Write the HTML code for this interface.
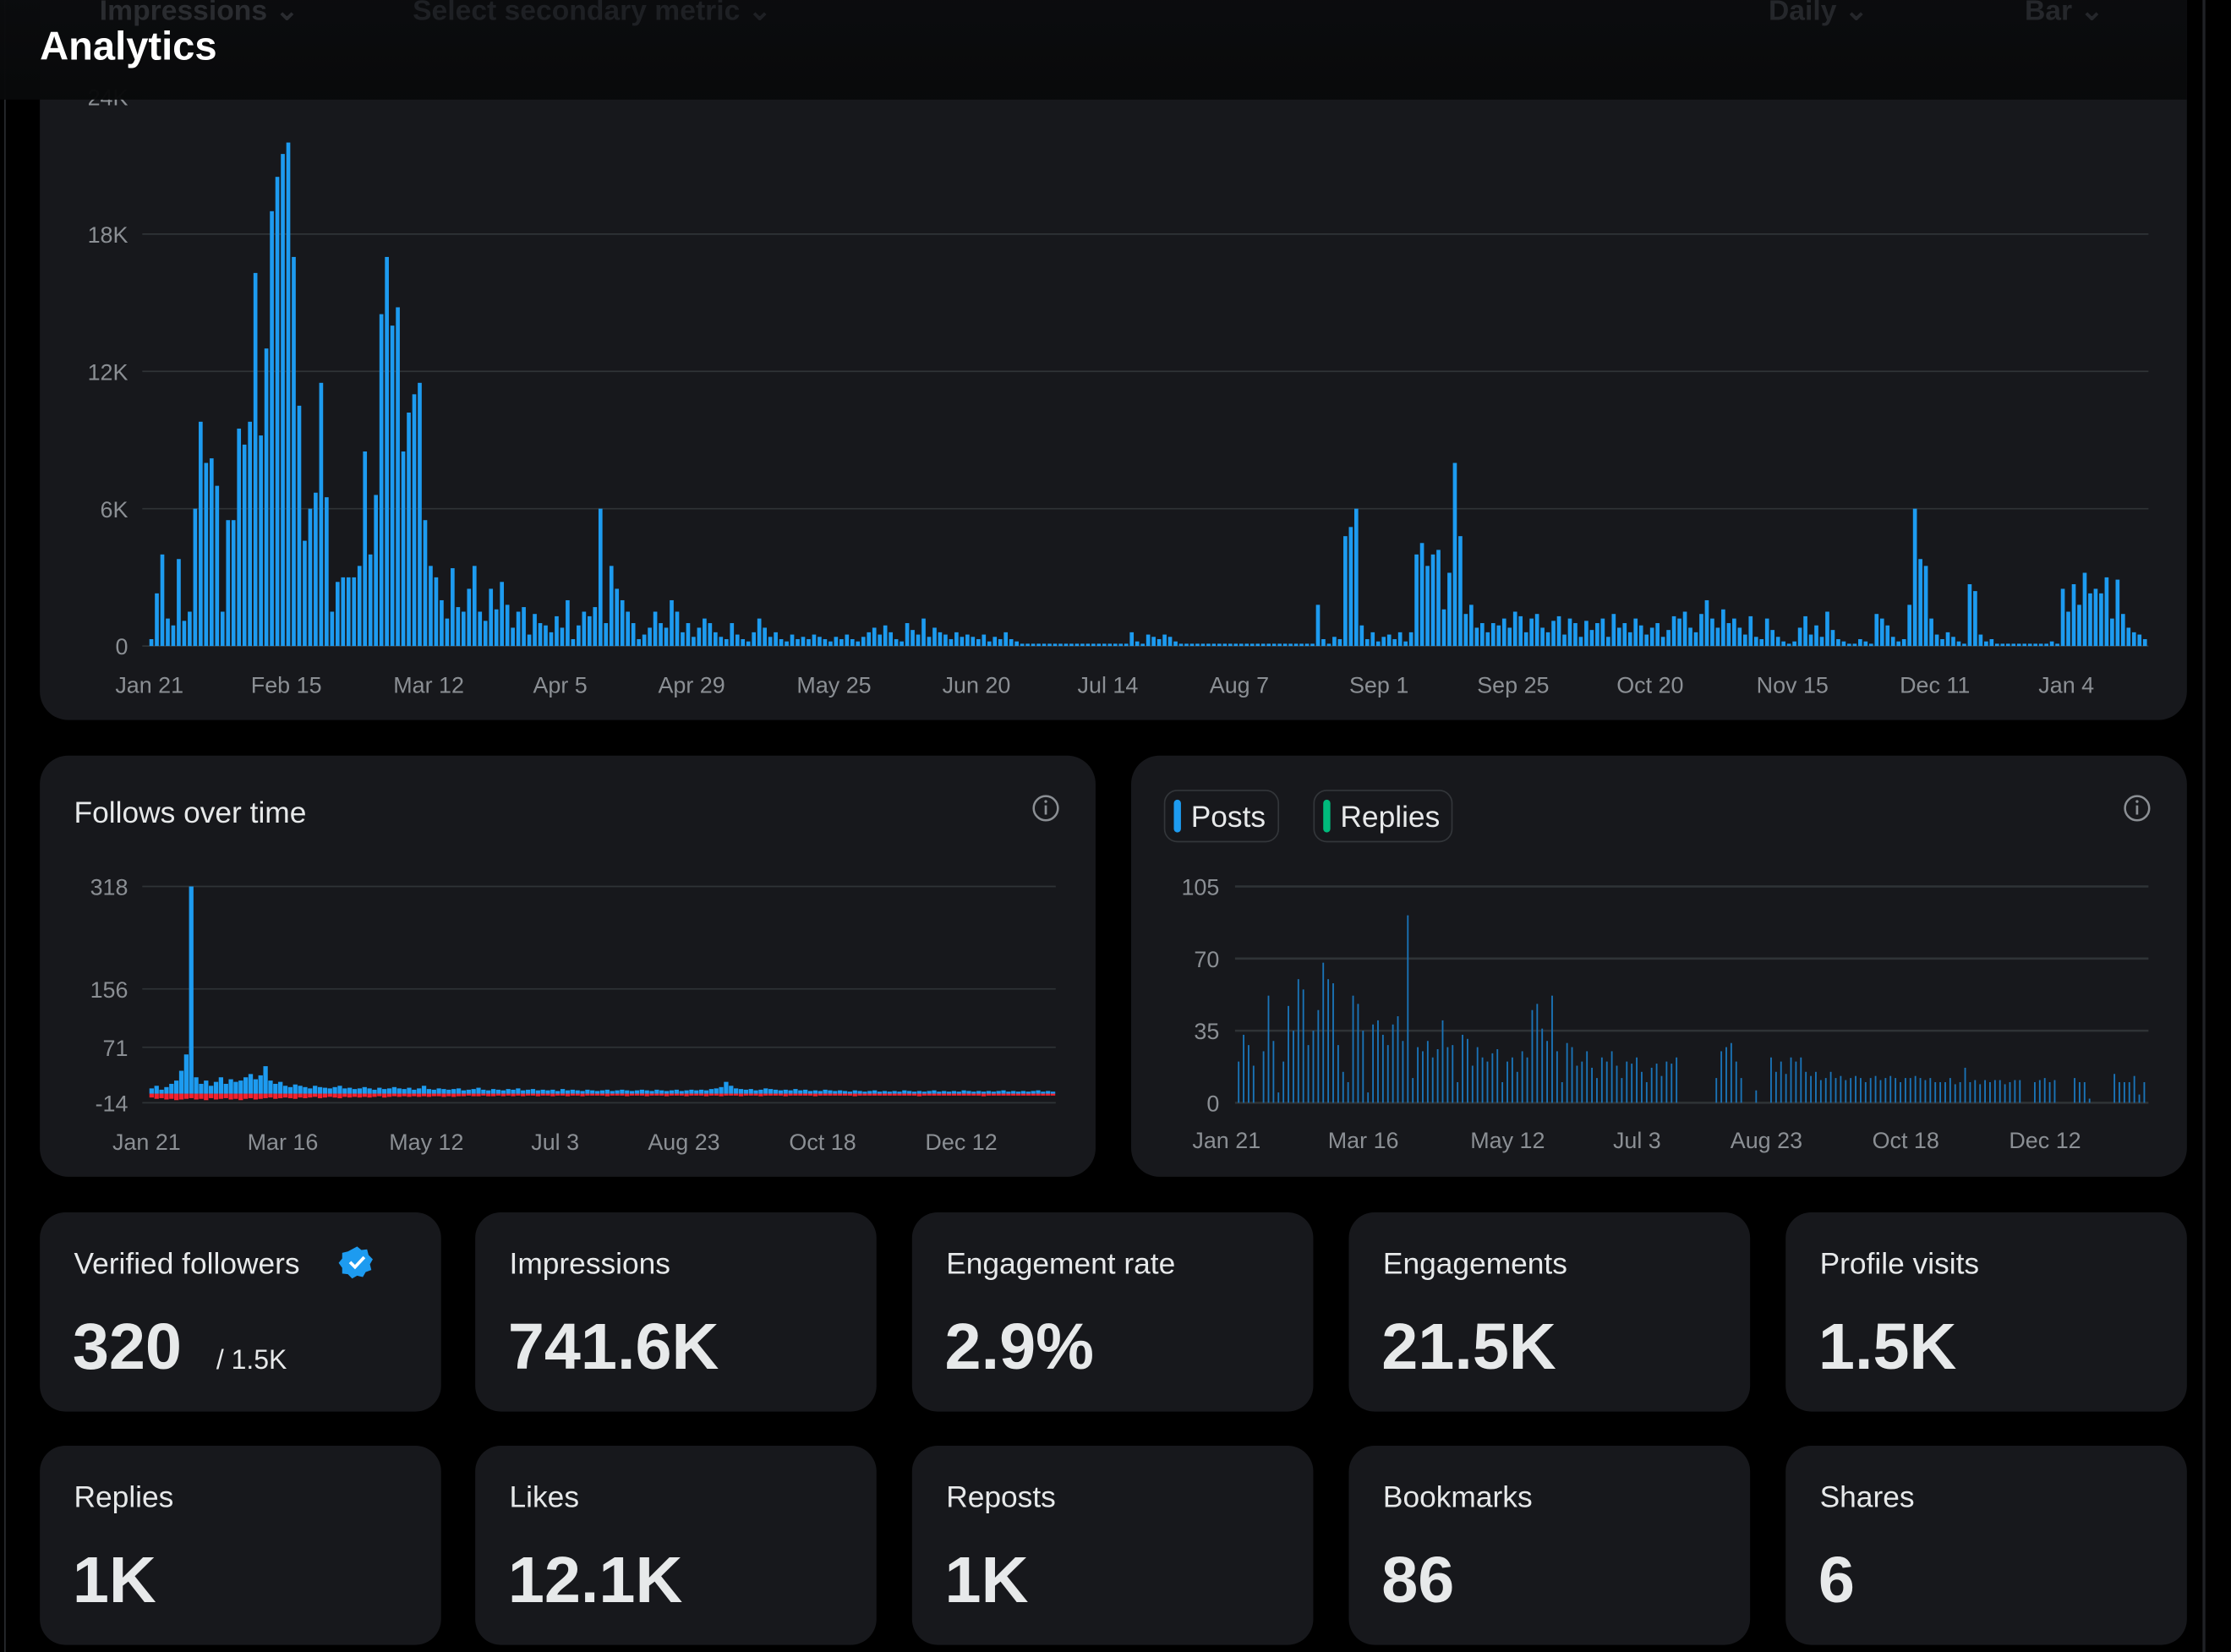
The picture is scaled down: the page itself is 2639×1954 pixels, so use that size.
<!DOCTYPE html>
<html><head><meta charset="utf-8"><style>
html,body{margin:0;padding:0;background:#000;width:2639px;height:1954px;overflow:hidden}
svg{display:block;font-family:"Liberation Sans",sans-serif}
</style></head><body>
<svg id="root" width="2639" height="1954" viewBox="0 0 1568 1161" xmlns="http://www.w3.org/2000/svg">
<defs>
<linearGradient id="hdr" x1="0" y1="0" x2="0" y2="1"><stop offset="0" stop-color="#0b0c0e"/><stop offset="1" stop-color="#08090a"/></linearGradient>
</defs>
<rect x="0" y="0" width="1568" height="1161" fill="#000"/>
<rect x="3" y="0" width="1" height="1161" fill="#2a2c30"/>
<rect x="1548" y="0" width="2" height="1161" fill="#202226"/>
<rect x="28" y="-30" width="1509" height="536" rx="20" fill="#17181c"/>
<g id="mainChart"></g>
<rect x="0" y="0" width="1537" height="70" fill="url(#hdr)" opacity="0.97"/>
<text x="70" y="14" fill="#2a2c30" font-size="20" font-weight="bold">Impressions ⌄</text>
<text x="290" y="14" fill="#1e2024" font-size="20" font-weight="bold">Select secondary metric ⌄</text>
<text x="1243" y="14" fill="#25272b" font-size="20" font-weight="bold">Daily ⌄</text>
<text x="1423" y="14" fill="#25272b" font-size="20" font-weight="bold">Bar ⌄</text>
<text x="28" y="42" fill="#ffffff" font-size="28" font-weight="bold">Analytics</text>

<rect x="28" y="531" width="742" height="296" rx="20" fill="#17181c"/>
<text x="52" y="578" fill="#e7e9ea" font-size="21">Follows over time</text>
<g><circle cx="735" cy="568" r="8.5" fill="none" stroke="#8b8f94" stroke-width="1.5"/><rect x="734.2" y="566" width="1.6" height="6.5" fill="#8b8f94"/><circle cx="735" cy="563.3" r="1" fill="#8b8f94"/></g>
<g id="followsChart"></g>

<rect x="795" y="531" width="742" height="296" rx="20" fill="#17181c"/>
<g><rect x="818.5" y="555.5" width="80" height="36" rx="9" fill="none" stroke="#33363a"/><rect x="825" y="562" width="5" height="23" rx="2.5" fill="#1d9bf0"/><text x="837" y="581" fill="#e7e9ea" font-size="21">Posts</text></g>
<g><rect x="923.5" y="555.5" width="97" height="36" rx="9" fill="none" stroke="#33363a"/><rect x="930" y="562" width="5" height="23" rx="2.5" fill="#00ba7c"/><text x="942" y="581" fill="#e7e9ea" font-size="21">Replies</text></g>
<g><circle cx="1502" cy="568" r="8.5" fill="none" stroke="#8b8f94" stroke-width="1.5"/><rect x="1501.2" y="566" width="1.6" height="6.5" fill="#8b8f94"/><circle cx="1502" cy="563.3" r="1" fill="#8b8f94"/></g>
<g id="postsChart"></g>

<g id="stats"></g>
</svg>
<script>
const NS="http://www.w3.org/2000/svg";
function mk(tag,attrs,parent){const e=document.createElementNS(NS,tag);for(const k in attrs)e.setAttribute(k,attrs[k]);parent.appendChild(e);return e;}

const impTicks=[0,6,12,18,24];
const impTickLabels=["0","6K","12K","18K","24K"];
const impDateLabels=["Jan 21","Feb 15","Mar 12","Apr 5","Apr 29","May 25","Jun 20","Jul 14","Aug 7","Sep 1","Sep 25","Oct 20","Nov 15","Dec 11","Jan 4"];
const impDateIdx=[0,25,51,75,99,125,151,175,199,224.5,249,274,300,326,350];
const impressions=[
0.3,2.3,4,1.2,0.9,3.8,1.1,1.5,6,9.8,
8,8.2,7,1.5,5.5,5.5,9.5,8.8,9.8,16.3,
9.2,13,19,20.5,21.5,22,17,10.5,4.6,6,
6.7,11.5,6.5,1.5,2.8,3,3,3,3.5,8.5,
4,6.6,14.5,17,14,14.8,8.5,10.2,11,11.5,
5.5,3.5,3,2,1.2,3.4,1.7,1.5,2.5,3.5,
1.5,1.1,2.5,1.6,2.8,1.8,0.8,1.5,1.7,0.5,
1.4,1,0.9,0.6,1.3,0.8,2,0.3,0.9,1.5,
1.3,1.7,6,1,3.5,2.5,2,1.5,1,0.3,
0.5,0.8,1.5,1,0.8,2,1.5,0.6,1,0.4,
0.8,1.2,1,0.6,0.4,0.3,1,0.5,0.3,0.2,
0.6,1.2,0.8,0.4,0.6,0.3,0.2,0.5,0.3,0.4,
0.3,0.5,0.4,0.3,0.2,0.4,0.3,0.5,0.3,0.2,
0.4,0.6,0.8,0.5,0.9,0.6,0.3,0.2,1,0.7,
0.5,1.2,0.4,0.8,0.6,0.5,0.3,0.6,0.4,0.5,
0.4,0.3,0.5,0.2,0.4,0.3,0.6,0.3,0.2,0.1,
0.1,0.1,0.1,0.1,0.1,0.1,0.1,0.1,0.1,0.1,
0.1,0.1,0.1,0.1,0.1,0.1,0.1,0.1,0.1,0.6,
0.2,0.1,0.5,0.4,0.3,0.5,0.4,0.2,0.1,0.1,
0.1,0.1,0.1,0.1,0.1,0.1,0.1,0.1,0.1,0.1,
0.1,0.1,0.1,0.1,0.1,0.1,0.1,0.1,0.1,0.1,
0.1,0.1,0.1,1.8,0.3,0.1,0.4,0.3,4.8,5.2,
6,0.9,0.3,0.6,0.2,0.4,0.5,0.3,0.6,0.2,
0.6,4,4.5,3.5,4,4.2,1.6,3.2,8,4.8,
1.4,1.8,0.8,1,0.6,1,0.9,1.2,0.8,1.5,
1.3,0.6,1.2,1.4,0.8,0.6,1.1,1.3,0.5,1.2,
1,0.4,1.1,0.7,1,1.2,0.4,1.4,0.8,1,
0.6,1.2,0.9,0.5,0.8,1,0.4,0.7,1.3,1.2,
1.5,0.8,0.6,1.4,2,1.2,0.8,1.6,1,1.2,
0.8,0.5,1.3,0.4,0.3,1.2,0.7,0.4,0.2,0.1,
0.2,0.8,1.3,0.5,0.9,0.4,1.5,0.7,0.3,0.2,
0.1,0.1,0.3,0.2,0.1,1.4,1.2,0.9,0.4,0.2,
0.3,1.8,6,3.8,3.5,1.2,0.5,0.3,0.6,0.4,
0.2,0.1,2.7,2.4,0.5,0.2,0.3,0.1,0.1,0.1,
0.1,0.1,0.1,0.1,0.1,0.1,0.1,0.2,0.1,2.5,
1.5,2.7,1.8,3.2,2.3,2.5,2.3,3,1.2,2.9,
1.4,0.8,0.6,0.5,0.3];

const folTicks=[-14,71,156,318];
const folTickY=[775,736,695,623];
const folDateLabels=["Jan 21","Mar 16","May 12","Jul 3","Aug 23","Oct 18","Dec 12"];
const folDateIdx=[0,27.5,56.5,82.5,108.5,136.5,164.5];
const follows=[
8,12,6,10,15,20,35,60,318,25,
15,20,12,18,25,15,22,18,20,25,
30,22,28,42,20,15,18,12,10,14,
12,10,8,12,10,9,8,10,12,8,
9,7,8,10,8,6,9,7,8,10,
8,7,9,6,8,12,7,6,8,7,
6,7,8,5,6,7,9,6,5,7,
6,5,7,6,8,5,6,7,5,6,
5,6,4,7,5,6,5,4,6,5,
4,5,6,4,5,6,5,4,5,6,
5,4,6,5,4,5,6,4,5,6,
5,6,5,7,8,10,18,12,8,7,
6,7,5,6,8,7,6,5,6,5,
7,5,6,4,5,4,6,5,4,5,
4,3,5,4,3,4,5,3,4,3,
4,3,5,4,3,4,3,4,5,3,
4,3,4,3,5,4,3,4,3,4,
3,4,5,3,4,3,4,3,4,5,
3,4,3];
const unfollows=[
6,8,7,9,8,10,9,8,7,9,
8,10,7,9,8,7,9,8,10,8,
7,9,8,7,6,8,7,6,7,8,
6,7,6,5,7,6,5,6,7,5,
6,5,6,5,6,5,4,6,5,4,
5,4,5,4,5,4,5,4,4,5,
4,5,4,4,3,4,4,3,4,4,
3,4,3,4,3,4,3,3,4,3,
3,4,3,3,4,3,3,4,3,3,
3,3,4,3,3,3,4,3,3,3,
4,3,3,3,4,3,3,3,4,3,
3,3,4,3,3,4,3,3,3,4,
3,3,3,4,3,3,3,3,4,3,
3,3,3,3,4,3,3,3,3,3,
3,3,4,3,3,3,3,3,3,3,
3,3,3,3,3,4,3,3,3,3,
3,3,3,3,3,3,3,3,4,3,
3,3,3,3,3,3,3,3,3,3,
3,3,3];

const postTicks=[0,35,70,105];
const postDateLabels=["Jan 21","Mar 16","May 12","Jul 3","Aug 23","Oct 18","Dec 12"];
const postDateIdx=[0,27.5,56.5,82.5,108.5,136.5,164.5];
const posts=[
20,33,28,18,0,25,52,30,5,20,
47,35,60,55,28,35,45,68,60,58,
28,15,10,52,48,35,5,38,40,33,
28,38,42,30,91,12,27,25,30,22,
26,40,27,28,10,33,31,18,27,22,
20,24,26,10,20,22,15,25,22,45,
48,36,30,52,25,10,29,27,18,20,
25,17,12,22,20,25,18,12,20,19,
22,15,10,17,19,13,20,19,22,0,
0,0,0,0,0,0,12,25,27,29,
20,12,0,0,6,0,0,22,15,20,
14,22,20,22,15,13,15,11,12,15,
12,13,11,12,13,12,10,12,13,11,
12,13,12,10,12,12,13,12,11,12,
10,10,10,12,9,10,17,10,11,9,
11,10,11,11,9,10,11,11,0,0,
10,11,12,10,11,0,0,0,12,10,
10,2,0,0,0,0,14,10,10,10,
13,4,10];

const GRID="#2f3336", TICK="#8b8f94", BLUE="#1d9bf0";

(function(){
  const g=document.getElementById('mainChart');
  const x0=105,x1=1510,y0=454,yTop=68;
  const step=(x1-x0)/impressions.length;
  const yS=v=>y0-(v/24)*(y0-yTop);
  const xS=i=>x0+i*step;
  impTicks.forEach((t,k)=>{
    const y=yS(t);
    const l=mk('line',{x1:100,x2:1510,y1:y,y2:y,stroke:GRID,'stroke-width':1},g);
    
    
    const tx=mk('text',{x:90,y:y+6,'text-anchor':'end',fill:TICK,'font-size':16},g);
    tx.textContent=impTickLabels[k];
    
    
  });
  impressions.forEach((v,i)=>{
    const y=yS(v);
    const r=mk('rect',{x:xS(i),y:y,width:step*0.72,height:Math.max(0.6,y0-y),fill:BLUE},g);
    
    
  });
  impDateLabels.forEach((d,k)=>{
    const tx=mk('text',{x:xS(impDateIdx[k]),y:487,'text-anchor':'middle',fill:TICK,'font-size':16},g);
    tx.textContent=d;
    
    
  });
})();

(function(){
  const g=document.getElementById('followsChart');
  const x0=105,x1=742;
  const step=(x1-x0)/follows.length;
  const xS=i=>x0+i*step;
  const yS=v=>{
    for(let k=0;k<folTicks.length-1;k++){
      if(v<=folTicks[k+1]||k===folTicks.length-2){
        const f=(v-folTicks[k])/(folTicks[k+1]-folTicks[k]);
        return folTickY[k]+f*(folTickY[k+1]-folTickY[k]);
      }
    }
  };
  folTicks.forEach((t,k)=>{
    const y=yS(t);
    const l=mk('line',{x1:100,x2:742,y1:y,y2:y,stroke:GRID,'stroke-width':1},g);
    
    
    const tx=mk('text',{x:90,y:y+6,'text-anchor':'end',fill:TICK,'font-size':16},g);
    tx.textContent=String(t);
    
    
  });
  const z=yS(0);
  unfollows.forEach((v,i)=>{
    const y=yS(-v);
    const r=mk('rect',{x:xS(i),y:z,width:step*0.9,height:y-z,fill:"#f4212e"},g);
    
    
  });
  follows.forEach((v,i)=>{
    const y=yS(v);
    const r=mk('rect',{x:xS(i),y:y,width:step*0.9,height:z-y,fill:BLUE},g);
    
    
  });
  folDateLabels.forEach((d,k)=>{
    const tx=mk('text',{x:xS(folDateIdx[k])-2,y:808,'text-anchor':'middle',fill:TICK,'font-size':16},g);
    tx.textContent=d;
    
    
  });
})();

(function(){
  const g=document.getElementById('postsChart');
  const x0=870,x1=1510,y0=775,yTop=623;
  const step=(x1-x0)/posts.length;
  const xS=i=>x0+i*step;
  const yS=v=>y0-(v/105)*(y0-yTop);
  postTicks.forEach((t,k)=>{
    const y=yS(t);
    const l=mk('line',{x1:868,x2:1510,y1:y,y2:y,stroke:GRID,'stroke-width':1.5},g);
    
    
    const tx=mk('text',{x:857,y:y+6,'text-anchor':'end',fill:TICK,'font-size':16},g);
    tx.textContent=String(t);
    
    
  });
  posts.forEach((v,i)=>{
    if(v<=0)return;
    const y=yS(v);
    const r=mk('rect',{x:xS(i),y:y,width:1.1,height:y0-y,fill:"#1a74b8"},g);
    
    
  });
  postDateLabels.forEach((d,k)=>{
    const tx=mk('text',{x:xS(postDateIdx[k])-8,y:807,'text-anchor':'middle',fill:TICK,'font-size':16},g);
    tx.textContent=d;
    
    
  });
})();

const statLabels=["Verified followers","Impressions","Engagement rate","Engagements","Profile visits","Replies","Likes","Reposts","Bookmarks","Shares"];
const statValues=["320","741.6K","2.9%","21.5K","1.5K","1K","12.1K","1K","86","6"];
(function(){
  const g=document.getElementById('stats');
  const xs=[28,334,641,948,1255], ys=[852,1016];
  statLabels.forEach((lab,i)=>{
    const x=xs[i%5], y=ys[Math.floor(i/5)];
    const c=mk('g',{},g);
    
    
    mk('rect',{x:x,y:y,width:282,height:140,rx:18,fill:"#17181c"},c);
    const t=mk('text',{x:x+24,y:y+43,fill:"#e7e9ea",'font-size':21},c);
    t.textContent=lab;
    const v=mk('text',{x:x+23,y:y+110,fill:"#e7e9ea",'font-size':46,'font-weight':'bold'},c);
    v.textContent=statValues[i];
  });
  const s=mk('text',{x:152,y:962,fill:"#e7e9ea",'font-size':19},g);
  s.textContent="/ 1.5K";
  
  
  const b=mk('g',{},g);
  
  
  mk('path',{d:"M251 876 l3 2.5 l4 -0.5 l1 4 l3 3 l-2 3.5 l1 4 l-4 1.5 l-2 3.5 l-4 -1 l-3.5 2 l-3 -3 l-4 -0.5 l0 -4 l-2.5 -3.5 l2.5 -3 l0 -4 l4 -1 z",fill:BLUE},b);
  mk('path',{d:"M246 887 l3.5 3.5 l6.5 -7",fill:"none",stroke:"#fff",'stroke-width':2.2},b);
})();
</script>
</body></html>
